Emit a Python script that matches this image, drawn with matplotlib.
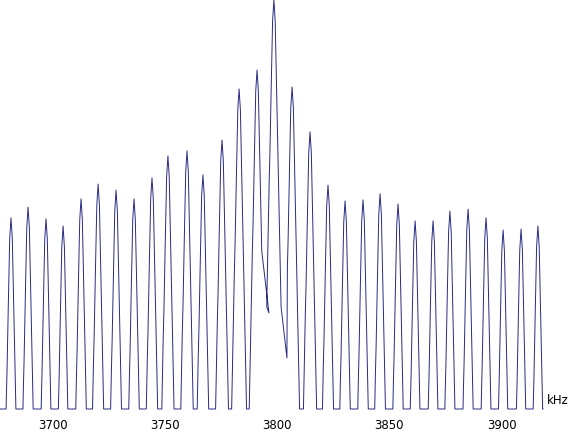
import numpy as np
import matplotlib
matplotlib.use("Agg")
import matplotlib.pyplot as plt

# Spectrum peaks (kHz, dB)
peak_freqs = [3681.5, 3689.1, 3697.1, 3704.7, 3712.7, 3720.3, 3728.3, 3736.3,
              3744.3, 3751.4, 3759.9, 3767.0, 3775.5, 3783.1, 3791.1, 3798.6,
              3806.7, 3814.7, 3822.7, 3830.3, 3838.3, 3845.9, 3853.9, 3861.5,
              3869.5, 3877.0, 3885.1, 3893.1, 3900.7, 3908.7, 3916.2]
peak_levels = [-42.6, -40.5, -42.8, -44.2, -38.9, -36.0, -37.2, -38.9,
               -34.8, -30.5, -29.5, -34.2, -27.4, -17.4, -13.7, 0.0,
               -17.0, -25.8, -36.2, -39.3, -39.1, -37.9, -39.9, -43.2,
               -43.2, -41.3, -40.9, -42.6, -45.0, -44.8, -44.2]

# level between neighbouring peaks (noise floor except near the carrier)
floor_db = -80.0
trough_levels = [floor_db] * (len(peak_freqs) - 1)
trough_freqs = [None] * (len(peak_freqs) - 1)
trough_levels[14], trough_freqs[14] = -61.2, 3796.4
trough_levels[15], trough_freqs[15] = -70.0, 3804.4

# measured peak shape: drop below tip (dB) -> half width (kHz)
shape_drop = [0.0, 4.1, 10.6, 17.2, 23.7, 30.1, 35.4, 60.0, 80.0]
shape_half = [0.0, 0.58, 0.89, 1.20, 1.47, 1.78, 2.09, 3.2, 4.1]

trace_start = 3676.6
trace_end = 3918.5

# Build the trace peak by peak
xs = [trace_start]
ys = [floor_db]
n = len(peak_freqs)
for i, (f, lvl) in enumerate(zip(peak_freqs, peak_levels)):
    left = floor_db if i == 0 else trough_levels[i - 1]
    left_f = None if i == 0 else trough_freqs[i - 1]
    right = floor_db if i == n - 1 else trough_levels[i]
    right_f = None if i == n - 1 else trough_freqs[i]

    # left side, foot up to tip
    d_left = lvl - left
    if left_f is None:
        xs.append(f - np.interp(d_left, shape_drop, shape_half))
        ys.append(left)
    for d in [d for d in shape_drop if d < d_left][::-1]:
        xs.append(f - np.interp(d, shape_drop, shape_half))
        ys.append(lvl - d)

    # right side, tip down to foot
    d_right = lvl - right
    for d in [d for d in shape_drop if 0 < d < d_right]:
        xs.append(f + np.interp(d, shape_drop, shape_half))
        ys.append(lvl - d)
    if right_f is None:
        xs.append(f + np.interp(d_right, shape_drop, shape_half))
    else:
        xs.append(right_f)
    ys.append(right)
xs.append(trace_end)
ys.append(floor_db)

W, H = 577, 433
fig = plt.figure(figsize=(W / 100, H / 100), dpi=100)
ax = fig.add_axes([0, 24 / H, 1, 409 / H])
ax.plot(xs, ys, color="#2a2a85", linewidth=0.7, clip_on=False)

ax.set_xlim(trace_start, trace_start + W / 2.245)
ax.set_ylim(floor_db, 0)
for s in ax.spines.values():
    s.set_visible(False)
ax.set_yticks([])
ax.set_xticks([3700, 3750, 3800, 3850, 3900])
ax.tick_params(axis="x", length=0, pad=7, labelsize=8.5)
ax.text(3920.3, -78.4, "kHz", fontsize=8.5, ha="left", va="center", clip_on=False)

fig.savefig("out.png", dpi=100)
plt.close(fig)
